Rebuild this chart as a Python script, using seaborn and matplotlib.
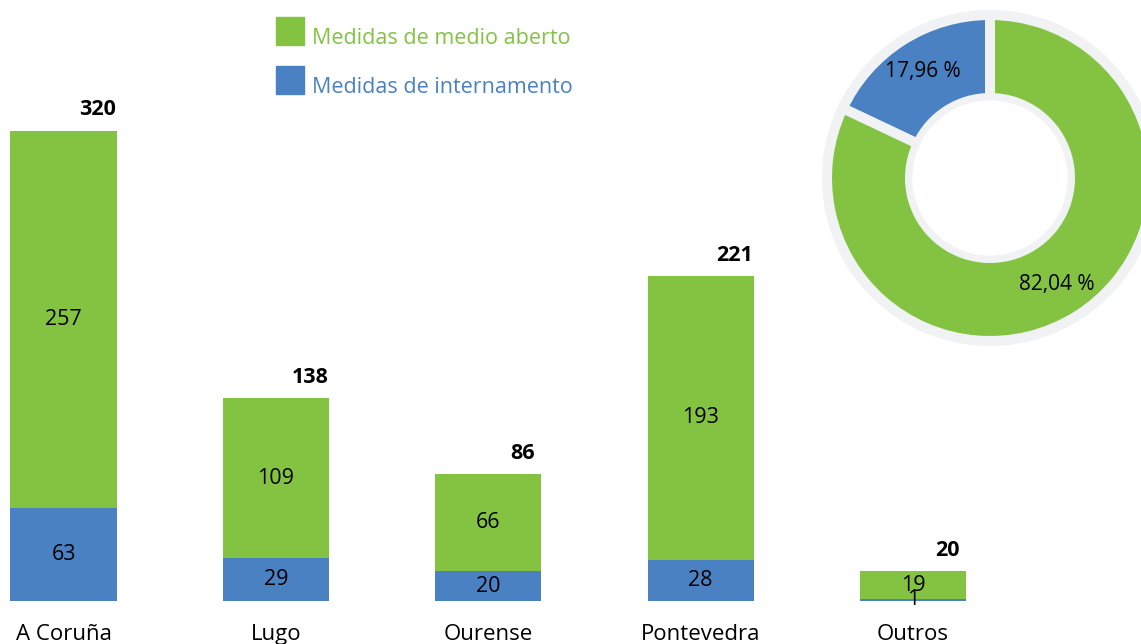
import pandas as pd
import matplotlib
matplotlib.use('Agg')
import matplotlib.pyplot as plt
import matplotlib.patches as mpatches
import matplotlib.transforms as mtransforms
import seaborn as sns

# Data
provincias = ['A Coruña', 'Lugo', 'Ourense', 'Pontevedra', 'Outros']
medio_aberto = [257, 109, 66, 193, 19]
internamento = [63, 29, 20, 28, 1]

green = '#83c341'
blue = '#4a81c3'
ring_gray = '#f1f2f4'

sns.set_style('white')
plt.rcParams['font.family'] = ['Open Sans', 'DejaVu Sans']
plt.rcParams['text.color'] = 'black'

df = pd.DataFrame({'provincia': provincias,
                   'aberto': medio_aberto,
                   'internamento': internamento})
df['total'] = df['aberto'] + df['internamento']

fig = plt.figure(figsize=(11.41, 6.44), dpi=100)

# Stacked bars: green full total, blue internamento drawn over it
ax = fig.add_axes([0, 43.3 / 644, 1, 600.7 / 644])
sns.barplot(data=df, x='provincia', y='total', color=green, width=0.5,
            saturation=1, errorbar=None, linewidth=0, ax=ax)
sns.barplot(data=df, x='provincia', y='internamento', color=blue, width=0.5,
            saturation=1, errorbar=None, linewidth=0, ax=ax)
ax.set_xlim(-0.299, 5.073)
ax.set_ylim(0, 408.9)
ax.set_xlabel('')
ax.set_ylabel('')
ax.set_yticks([])
ax.tick_params(axis='x', length=0, pad=16.5, labelsize=16, labelcolor='black')
for s in ax.spines.values():
    s.set_visible(False)

for i, row in df.iterrows():
    ax.text(i, row['internamento'] + row['aberto'] / 2, str(row['aberto']),
            ha='center', va='center', fontsize=15.5, color='black')
    ax.text(i, row['internamento'] / 2, str(row['internamento']),
            ha='center', va='center', fontsize=15.5, color='black')
    ax.annotate(str(row['total']), (i + 0.16, row['total']),
                xytext=(0, 15), textcoords='offset points',
                ha='center', va='center', fontsize=15.5, fontweight='bold',
                color='black')

# Legend
handles = [mpatches.Patch(color=green, label='Medidas de medio aberto'),
           mpatches.Patch(color=blue, label='Medidas de internamento')]
leg = fig.legend(handles=handles, loc='upper left',
                 bbox_to_anchor=(276 / 1141, 1 - 17 / 644),
                 frameon=False, fontsize=15.5, borderpad=0, borderaxespad=0,
                 handlelength=1.3, handleheight=1.63, handletextpad=0.38,
                 labelspacing=0.98)
# nudge the label text down a little so it sits near the bottom of the square
shift = mtransforms.ScaledTranslation(0, -6 / 100, fig.dpi_scale_trans)
for txt, c in zip(leg.get_texts(), [green, blue]):
    txt.set_color(c)
    txt.set_transform(txt.get_transform() + shift)

# Donut
R = 167
cx, cy = 990, 178
pax = fig.add_axes([(cx - R) / 1141, (644 - cy - R) / 644, 2 * R / 1141, 2 * R / 644])
pax.set_xlim(-1, 1)
pax.set_ylim(-1, 1)
pax.set_aspect('equal')
pax.axis('off')
pax.add_patch(mpatches.Circle((0, 0), 1.0, color=ring_gray, zorder=0))
sums = [sum(internamento), sum(medio_aberto)]
pax.pie(sums, colors=[blue, green], startangle=90, counterclock=True,
        radius=0.976, pctdistance=0.77,
        autopct=lambda p: f'{p:.2f} %'.replace('.', ','),
        wedgeprops=dict(width=0.497, edgecolor=ring_gray, linewidth=7.2),
        textprops=dict(fontsize=15, color='black'))
pax.add_patch(mpatches.Circle((0, 0), 77 / R, color='white', zorder=5))
pax.set_xlim(-1, 1)
pax.set_ylim(-1, 1)

fig.savefig('out.png', dpi=100)
